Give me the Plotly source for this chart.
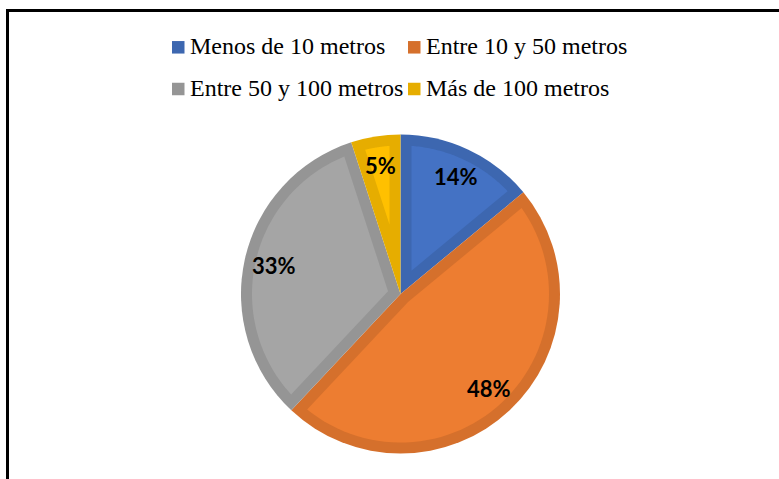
import math
import plotly.graph_objects as go

# Distance to the water source, share of households
labels = ["Menos de 10 metros", "Entre 10 y 50 metros", "Entre 50 y 100 metros", "Más de 100 metros"]
values = [14, 48, 33, 5]

fill_colors = ["#4472C4", "#ED7D31", "#A5A5A5", "#FFC000"]
edge_colors = ["#3D67B0", "#D5702C", "#959595", "#E6AD00"]

# Canvas and pie geometry (pixels)
W, H = 779, 479
CX, CY, R = 400.5, 294.0, 159.5
INSET = 11.0          # width of the darker band inside each slice
LABEL_RADIUS = 0.815  # label distance from centre, as a fraction of R

# Legend layout (pixels)
LEG_COLS = [172.0, 408.0]
LEG_ROWS = [47.3, 89.0]
LEG_BOX = 12.5
LEG_TEXT_GAP = 15.5

SERIF = "Liberation Serif"
LABEL_FONT = "Lato"


def px(x, y):
    """Pixel position -> paper coordinates (margins are zero)."""
    return x / W, 1.0 - y / H


def polar(r, theta):
    """Point at radius r, angle theta measured clockwise from 12 o'clock."""
    return CX + r * math.sin(theta), CY - r * math.cos(theta)


fig = go.Figure()

fig.add_trace(go.Pie(
    labels=labels,
    values=values,
    sort=False,
    direction="clockwise",
    rotation=0,
    marker=dict(colors=edge_colors, line=dict(width=0)),
    textinfo="none",
    showlegend=False,
    domain=dict(x=[(CX - R) / W, (CX + R) / W],
                y=[1 - (CY + R) / H, 1 - (CY - R) / H]),
    hovertemplate="%{label}: %{percent}<extra></extra>",
))

shapes = []
annotations = []

total = float(sum(values))
start = 0.0
for v, fc in zip(values, fill_colors):
    span = 2 * math.pi * v / total
    a0, a1 = start, start + span
    mid = (a0 + a1) / 2

    # lighter inner face of the slice, inset from every edge
    apex = polar(INSET / math.sin(span / 2), mid)
    r_in = R - INSET
    delta = math.asin(INSET / r_in)
    n = 60
    pts = [apex]
    for i in range(n + 1):
        t = (a0 + delta) + (a1 - a0 - 2 * delta) * i / n
        pts.append(polar(r_in, t))
    path = "M " + " L ".join("{:.5f},{:.5f}".format(*px(x, y)) for x, y in pts) + " Z"
    shapes.append(dict(type="path", path=path, xref="paper", yref="paper",
                       fillcolor=fc, line=dict(width=0), layer="above"))

    # percentage label
    lx, ly = polar(LABEL_RADIUS * R, mid)
    ax, ay = px(lx, ly)
    annotations.append(dict(
        x=ax, y=ay, xref="paper", yref="paper", showarrow=False,
        text="<b>{:.0f}%</b>".format(100 * v / total),
        font=dict(family=LABEL_FONT, size=22, color="#000000"),
        xanchor="center", yanchor="middle",
    ))
    start = a1

# Legend: two columns, two rows
for i, (lab, col) in enumerate(zip(labels, edge_colors)):
    x0 = LEG_COLS[i % 2]
    yc = LEG_ROWS[i // 2]
    bx0, by0 = px(x0, yc - LEG_BOX / 2)
    bx1, by1 = px(x0 + LEG_BOX, yc + LEG_BOX / 2)
    shapes.append(dict(type="rect", xref="paper", yref="paper",
                       x0=bx0, x1=bx1, y0=by1, y1=by0,
                       fillcolor=col, line=dict(width=0)))
    tx, ty = px(x0 + LEG_TEXT_GAP, yc - 1)
    annotations.append(dict(
        x=tx, y=ty, xref="paper", yref="paper", showarrow=False,
        text=lab, xanchor="left", yanchor="middle",
        font=dict(family=SERIF, size=24, color="#000000"),
    ))

# Chart frame (left and top edges)
fx, fy = 7.5, 10.5
x_a, y_a = px(fx, fy)
x_b, y_b = px(fx, H)
x_c, _ = px(W, fy)
shapes.append(dict(type="line", xref="paper", yref="paper", x0=x_a, y0=y_a, x1=x_b, y1=y_b,
                   line=dict(color="#000000", width=3)))
shapes.append(dict(type="line", xref="paper", yref="paper", x0=x_a - 1.5 / W, y0=y_a, x1=x_c, y1=y_a,
                   line=dict(color="#000000", width=3)))

fig.update_layout(
    width=W, height=H,
    margin=dict(l=0, r=0, t=0, b=0),
    paper_bgcolor="#FFFFFF",
    plot_bgcolor="#FFFFFF",
    showlegend=False,
    shapes=shapes,
    annotations=annotations,
    font=dict(family=SERIF),
)

fig.write_html("out.html")
